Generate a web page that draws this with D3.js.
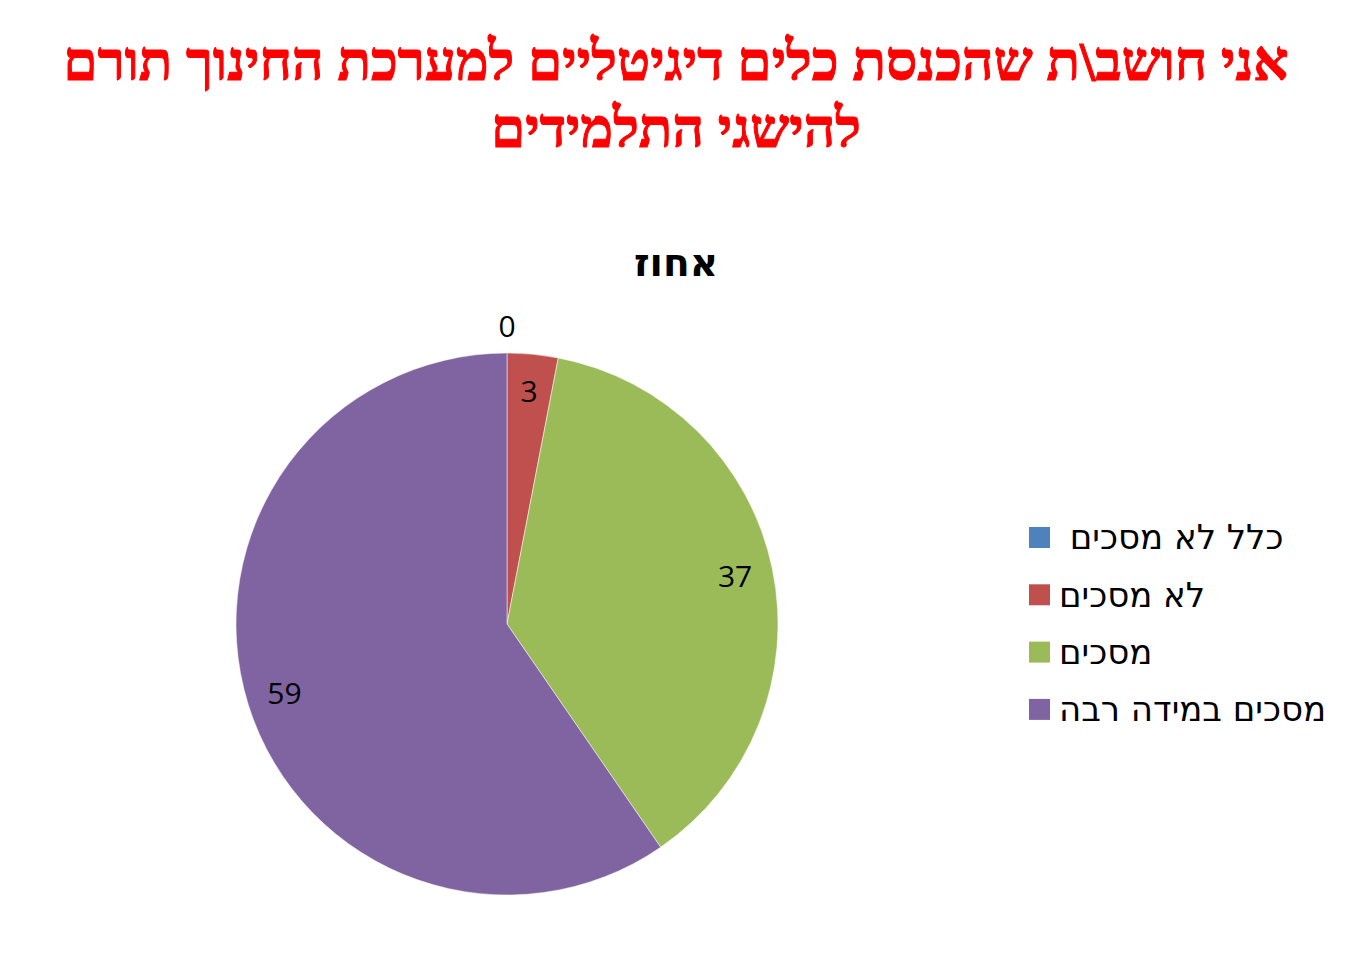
<!DOCTYPE html>
<html lang="he">
<head>
<meta charset="utf-8">
<script src="https://cdn.jsdelivr.net/npm/d3@7"></script>
<style>
  html, body { margin: 0; padding: 0; background: #fff; }
  svg { display: block; }
</style>
</head>
<body>
<svg id="chart" width="1350" height="960"></svg>
<script>
// Survey answers and their share (percent)
const categories = ["כלל לא מסכים ", "לא מסכים", "מסכים", "מסכים במידה רבה"];
const values = [0, 3, 37, 59];
const colors = ["#4F81BD", "#C0504D", "#9BBB59", "#8064A2"];
const titleLines = ["אני חושב\\ת שהכנסת כלים דיגיטליים למערכת החינוך תורם", "להישגי התלמידים"];
const seriesName = "אחוז";

const svg = d3.select("#chart");
const W = 1350, H = 960;
svg.append("rect").attr("width", W).attr("height", H).attr("fill", "#fff");

// Title
svg.append("g").selectAll("text").data(titleLines).join("text")
  .attr("x", 676)
  .attr("y", (d, i) => 80 + i * 67)
  .attr("text-anchor", "middle")
  .attr("direction", "rtl")
  .attr("fill", "#FF0000")
  .attr("stroke", "#FF0000")
  .attr("stroke-width", 1)
  .attr("font-family", "'Liberation Serif', 'DejaVu Serif', serif")
  .attr("font-weight", "bold")
  .attr("font-size", 55)
  .text(d => d);

// Series name
svg.append("text")
  .attr("x", 676).attr("y", 276)
  .attr("text-anchor", "middle")
  .attr("font-family", "'DejaVu Sans', 'Open Sans', sans-serif")
  .attr("font-weight", "bold")
  .attr("font-size", 39)
  .attr("fill", "#000")
  .text(seriesName);

// Pie
const cx = 507, cy = 624, R = 271;
const data = categories.map((c, i) => ({ cat: c, value: values[i], color: colors[i] }));
const pie = d3.pie().value(d => d.value).sort(null);
const arcs = pie(data);
const arc = d3.arc().innerRadius(0).outerRadius(R);
const labelArc = d3.arc().innerRadius(R * 0.86).outerRadius(R * 0.86);
const outerLabelArc = d3.arc().innerRadius(R + 27).outerRadius(R + 27);

const g = svg.append("g").attr("transform", `translate(${cx},${cy})`);
g.selectAll("path").data(arcs).join("path")
  .attr("d", arc)
  .attr("fill", d => d.data.color)
  .attr("stroke", "#fff")
  .attr("stroke-width", 0.5);

g.selectAll("text.lbl").data(arcs).join("text")
  .attr("class", "lbl")
  .attr("transform", d => `translate(${(d.data.value === 0 ? outerLabelArc : labelArc).centroid(d)})`)
  .attr("text-anchor", "middle")
  .attr("dy", "0.35em")
  .attr("font-family", "'Open Sans', 'Liberation Sans', sans-serif")
  .attr("font-size", 30)
  .attr("fill", "#000")
  .text(d => d.data.value);

// Legend
const legend = svg.append("g");
const items = legend.selectAll("g").data(data).join("g")
  .attr("transform", (d, i) => `translate(1029, ${527 + i * 57.3})`);
items.append("rect")
  .attr("width", 21).attr("height", 21)
  .attr("fill", d => d.color);
items.append("text")
  .attr("x", 30).attr("y", 10.5)
  .attr("dy", "0.35em")
  .attr("direction", "rtl")
  .attr("text-anchor", "end")
  .attr("xml:space", "preserve")
  .style("white-space", "pre")
  .attr("font-family", "'DejaVu Sans', 'Open Sans', sans-serif")
  .attr("font-size", 34)
  .attr("fill", "#000")
  .text(d => d.cat.replace(/ $/, "\u00A0"));
</script>
</body>
</html>
